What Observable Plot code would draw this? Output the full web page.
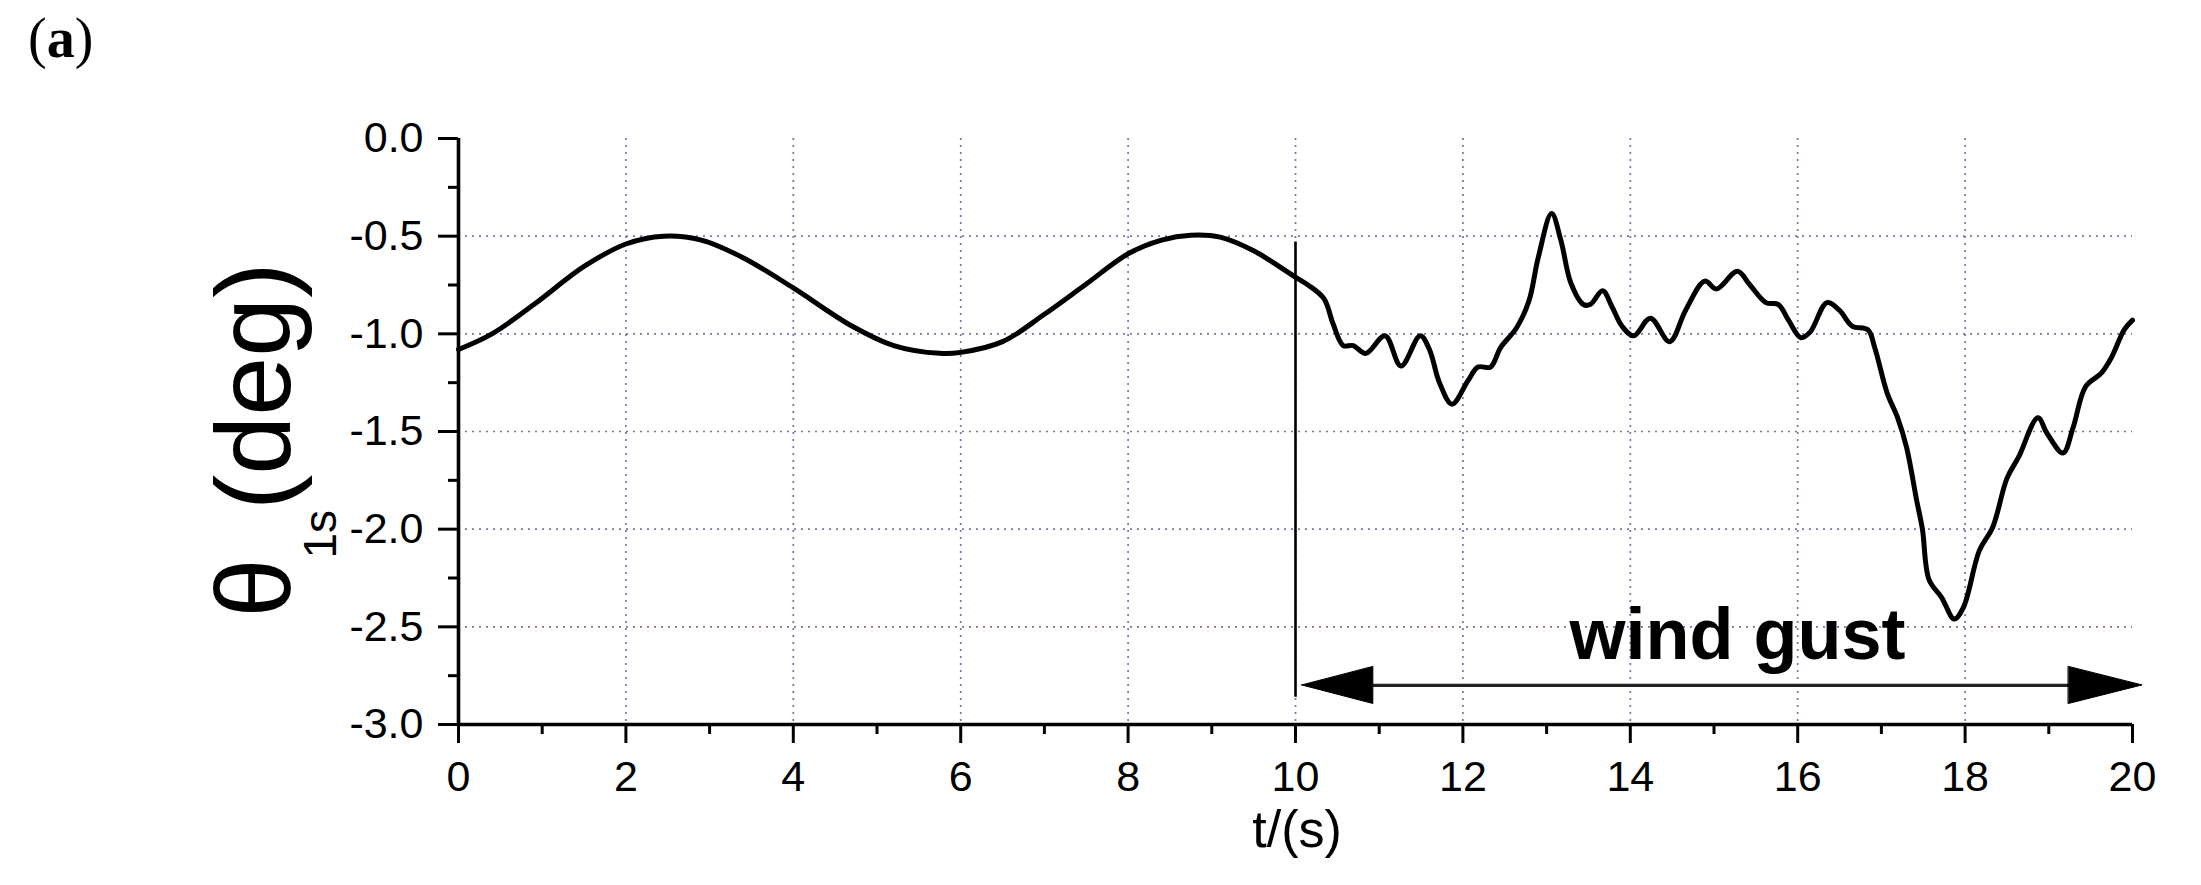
<!DOCTYPE html>
<html>
<head>
<meta charset="utf-8">
<script src="https://cdn.jsdelivr.net/npm/d3@7"></script>
<script src="https://cdn.jsdelivr.net/npm/@observablehq/plot@0.6"></script>
<style>
  html, body { margin: 0; padding: 0; background: #fff; }
  #chart { width: 2201px; height: 885px; }
</style>
</head>
<body>
<div id="chart"></div>
<script>
// ---- data ----
const calmT =     [0, 0.4, 0.9, 1.5, 2.0, 2.45, 2.9, 3.4, 4.0, 4.7, 5.2, 5.75, 6.0, 6.5, 7.0, 7.5, 8.0, 8.4, 8.75, 9.1, 9.5, 10.0];
const calmTheta = [-1.08, -1.0, -0.85, -0.655, -0.54, -0.5, -0.52, -0.61, -0.765, -0.96, -1.06, -1.1, -1.095, -1.04, -0.9, -0.745, -0.59, -0.52, -0.495, -0.505, -0.575, -0.71];

const gustT = [10.15, 10.34, 10.45, 10.57, 10.69, 10.84, 11.07, 11.26, 11.49, 11.6, 11.72, 11.87, 12.06, 12.18, 12.33, 12.45, 12.64, 12.79, 12.9, 13.06, 13.17, 13.29, 13.44, 13.52, 13.67, 13.78, 13.9, 14.04, 14.24, 14.47, 14.66, 14.89, 15.03, 15.28, 15.43, 15.62, 15.77, 15.89, 16.04, 16.15, 16.35, 16.5, 16.65, 16.84, 16.92, 17.07, 17.19, 17.3, 17.42, 17.49, 17.57, 17.72, 17.87, 17.98, 18.17, 18.33, 18.5, 18.64, 18.87, 18.98, 19.17, 19.29, 19.44, 19.63, 19.75, 19.9, 20.0];
const gustTheta = [-0.75, -0.82, -0.95, -1.06, -1.06, -1.10, -1.01, -1.165, -1.01, -1.08, -1.25, -1.36, -1.24, -1.17, -1.17, -1.07, -0.97, -0.83, -0.61, -0.384, -0.52, -0.74, -0.85, -0.85, -0.78, -0.86, -0.96, -1.01, -0.92, -1.04, -0.88, -0.73, -0.77, -0.68, -0.75, -0.84, -0.85, -0.93, -1.02, -0.99, -0.84, -0.88, -0.96, -0.98, -1.07, -1.305, -1.425, -1.58, -1.85, -2.0, -2.26, -2.35, -2.46, -2.40, -2.11, -1.99, -1.74, -1.63, -1.43, -1.51, -1.61, -1.48, -1.27, -1.20, -1.12, -0.98, -0.93];

const xMajorTicks = [0, 2, 4, 6, 8, 10, 12, 14, 16, 18, 20];
const xMinorTicks = [1, 3, 5, 7, 9, 11, 13, 15, 17, 19];
const yMajorTicks = [0, -0.5, -1.0, -1.5, -2.0, -2.5, -3.0];
const yMinorTicks = [-0.25, -0.75, -1.25, -1.75, -2.25, -2.75];
const xGridValues = [2, 4, 6, 8, 10, 12, 14, 16, 18];
const yGridValues = [-0.5, -1.0, -1.5, -2.0, -2.5];

// annotation (gust interval) in data units
const gustInterval = [10, 20];
const gustLine = [-0.53, -2.86];
const arrowLevel = -2.80;
const gustLabel = ["wind gust"];
const gustLabelPos = [15.28, -2.667];

const panelLabel = ["(", "a", ")"];
const xLabel = "t/(s)";
const yLabelParts = ["θ", "1s", "(deg)"];

// ---- build ----
const series = [
  ...calmT.map((t, i) => ({t, theta: calmTheta[i]})),
  ...gustT.map((t, i) => ({t, theta: gustTheta[i]}))
];
const headLen = 0.85, headHalf = 0.095, tipGap = 0.08;
const leftHead = [
  {t: gustInterval[0] + tipGap, lo: arrowLevel, hi: arrowLevel},
  {t: gustInterval[0] + tipGap + headLen, lo: arrowLevel - headHalf, hi: arrowLevel + headHalf}
];
const rightHead = [
  {t: gustInterval[1] + 0.12 - headLen - 0.03, lo: arrowLevel - headHalf, hi: arrowLevel + headHalf},
  {t: gustInterval[1] + 0.12, lo: arrowLevel, hi: arrowLevel}
];

const gridColor = "#7676aa";
const sans = "'Liberation Sans', Arial, Helvetica, sans-serif";

const plot = Plot.plot({
  width: 2201,
  height: 885,
  marginLeft: 458,
  marginRight: 69,
  marginTop: 138,
  marginBottom: 161,
  x: {domain: [0, 20], label: null},
  y: {domain: [-3, 0], label: null},
  style: {fontFamily: sans, background: "white", color: "black", overflow: "visible"},
  marks: [
    Plot.gridX(xGridValues, {stroke: gridColor, strokeOpacity: 1, strokeWidth: 1.7, strokeDasharray: "2,5"}),
    Plot.gridY(yGridValues, {stroke: gridColor, strokeOpacity: 1, strokeWidth: 1.7, strokeDasharray: "2,5"}),
    Plot.ruleX([gustInterval[0]], {y1: gustLine[0], y2: gustLine[1], stroke: "black", strokeWidth: 2.6}),
    Plot.ruleY([arrowLevel], {x1: gustInterval[0] + 0.5, x2: gustInterval[1] - 0.5, stroke: "#222", strokeWidth: 3.2}),
    Plot.areaY(leftHead, {x: "t", y1: "lo", y2: "hi", fill: "black", stroke: "black", strokeWidth: 1}),
    Plot.areaY(rightHead, {x: "t", y1: "lo", y2: "hi", fill: "black", stroke: "black", strokeWidth: 1}),
    Plot.line(series, {x: "t", y: "theta", curve: "catmull-rom", stroke: "black", strokeWidth: 5, strokeLinejoin: "round"}),
    Plot.text(gustLabel, {x: gustLabelPos[0], y: gustLabelPos[1], text: d => d, fontSize: 72, fontWeight: "bold", textAnchor: "middle", lineAnchor: "bottom", fill: "black"}),
    Plot.axisX(xMajorTicks, {tickSize: 19, tickPadding: 17, fontSize: 43, strokeWidth: 3, tickFormat: d => String(d), label: null}),
    Plot.axisX(xMinorTicks, {tickSize: 10, strokeWidth: 3, tickFormat: () => "", label: null}),
    Plot.axisY(yMajorTicks, {tickSize: 20, tickPadding: 15, fontSize: 43, strokeWidth: 3, tickFormat: d => d.toFixed(1), label: null}),
    Plot.axisY(yMinorTicks, {tickSize: 10, strokeWidth: 3, tickFormat: () => "", label: null}),
    Plot.ruleY([-3], {x1: 0, x2: 20, stroke: "black", strokeWidth: 3.6}),
    Plot.ruleX([0], {y1: -3, y2: 0, stroke: "black", strokeWidth: 3.6})
  ]
});

const svg = d3.select(plot);

// y-axis label with subscript
const yl = svg.append("text")
  .attr("transform", "translate(290,440) rotate(-90)")
  .attr("text-anchor", "middle")
  .attr("fill", "black")
  .style("font-family", sans)
  .style("font-size", "106px");
yl.append("tspan").text(yLabelParts[0]);
yl.append("tspan").attr("dy", 46).style("font-size", "46px").text(yLabelParts[1]);
yl.append("tspan").attr("dy", -46).text(yLabelParts[2]);

// x-axis label
svg.append("text")
  .attr("x", 1297).attr("y", 847)
  .attr("text-anchor", "middle")
  .attr("fill", "black")
  .style("font-family", sans)
  .style("font-size", "52px")
  .text(xLabel);

// panel label
const pl = svg.append("text")
  .attr("x", 28).attr("y", 57)
  .attr("text-anchor", "start")
  .attr("fill", "black")
  .style("font-family", "'Liberation Serif', 'DejaVu Serif', serif")
  .style("font-size", "56px");
pl.append("tspan").text(panelLabel[0]);
pl.append("tspan").style("font-weight", "bold").text(panelLabel[1]);
pl.append("tspan").text(panelLabel[2]);

document.getElementById("chart").appendChild(plot);
</script>
</body>
</html>
